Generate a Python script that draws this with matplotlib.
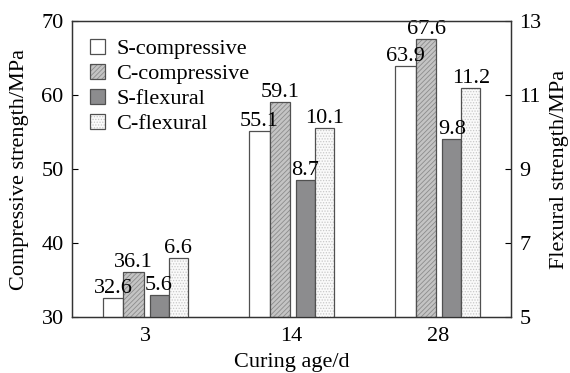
import matplotlib

matplotlib.use("Agg")
import matplotlib.pyplot as plt
import numpy as np

plt.rcParams["font.family"] = ["Liberation Serif", "DejaVu Serif"]
plt.rcParams["hatch.linewidth"] = 0.6

ages = ["3", "14", "28"]
s_comp = [32.6, 55.1, 63.9]
c_comp = [36.1, 59.1, 67.6]
s_flex = [5.6, 8.7, 9.8]
c_flex = [6.6, 10.1, 11.2]

EDGE = "#505050"
FS = 16

fig = plt.figure(figsize=(5.7, 3.73), dpi=100)
ax = fig.add_axes([72 / 570, 1 - 317 / 373, 439 / 570, 296 / 373])
ax2 = ax.twinx()
x = np.arange(len(ages))

# (axis, offset, width, values, face, hatch, hatch colour, label)
series = [
    (ax, -0.22, 0.14, s_comp, "white", None, None, "S-compressive"),
    (ax, -0.08, 0.14, c_comp, "#c4c4c4", "///////", "#8c8c8c", "C-compressive"),
    (ax2, 0.095, 0.13, s_flex, "#8c8c8e", None, None, "S-flexural"),
    (ax2, 0.225, 0.13, c_flex, "#fafafa", "......", "#c8c8c8", "C-flexural"),
]

handles, labels = [], []
for a, off, w, vals, face, hatch, hcol, lab in series:
    if hatch:
        fill = a.bar(x + off, vals, w, color=face, hatch=hatch,
                     edgecolor=hcol, lw=0)
    else:
        fill = a.bar(x + off, vals, w, color=face, lw=0)
    edge = a.bar(x + off, vals, w, fill=False, edgecolor=EDGE, lw=0.9)
    handles.append((fill.patches[0], edge.patches[0]))
    labels.append(lab)
    for rect, v in zip(edge.patches, vals):
        a.annotate(f"{v}", (rect.get_x() + rect.get_width() / 2, v),
                   textcoords="offset points", xytext=(0, 0), ha="center",
                   va="bottom", fontsize=FS)

ax.set_xlim(-0.5, 2.5)
ax.set_ylim(30, 70)
ax2.set_ylim(5, 13)
ax.set_yticks([30, 40, 50, 60, 70])
ax2.set_yticks([5, 7, 9, 11, 13])
ax.set_xticks(x)
ax.set_xticklabels(ages)
ax.tick_params(axis="y", direction="in", labelsize=FS, length=4, pad=6)
ax.tick_params(axis="x", length=0, labelsize=FS, pad=7)
ax2.tick_params(axis="y", direction="in", labelsize=FS, length=4, pad=6)
for a in (ax, ax2):
    for sp in a.spines.values():
        sp.set_color("#333333")
        sp.set_linewidth(0.9)

ax.set_xlabel("Curing age/d", fontsize=FS, labelpad=5)
ax.set_ylabel("Compressive strength/MPa", fontsize=FS, labelpad=9)
ax2.set_ylabel("Flexural strength/MPa", fontsize=FS, labelpad=6)

ax.legend(handles, labels, loc="upper left", frameon=False, fontsize=FS,
          handlelength=0.7, handleheight=0.7, handletextpad=0.5,
          labelspacing=0.2, borderaxespad=0.3, borderpad=0.5)

fig.savefig("out.png", dpi=100)
